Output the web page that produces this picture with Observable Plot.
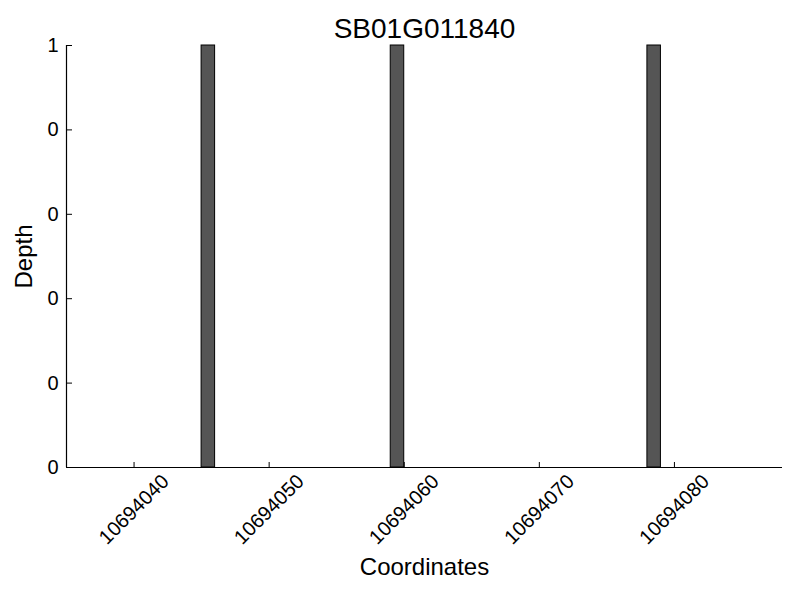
<!DOCTYPE html>
<html>
<head>
<meta charset="utf-8">
<script src="https://cdn.jsdelivr.net/npm/d3@7"></script>
<script src="https://cdn.jsdelivr.net/npm/@observablehq/plot@0.6"></script>
<style>
  html, body { margin: 0; padding: 0; background: #fff; }
  #chart svg { display: block; font-family: "Liberation Sans", Arial, sans-serif; }
</style>
</head>
<body>
<div id="chart"></div>
<script>
const title = "SB01G011840";
const xLabel = "Coordinates";
const yLabel = "Depth";
// bars: start coordinate, end coordinate, depth
const barStart = [10694045, 10694059, 10694078];
const barEnd = [10694046, 10694060, 10694079];
const depth = [1, 1, 1];
const xDomain = [10694035, 10694088];
const xTicks = [10694040, 10694050, 10694060, 10694070, 10694080];
const yTicks = [0, 0.2, 0.4, 0.6, 0.8, 1];
const yTickLabels = ["0", "0", "0", "0", "0", "1"];

const bars = barStart.map((s, i) => ({x1: s, x2: barEnd[i], y: depth[i]}));
const yt = yTicks.map((v, i) => ({v, label: yTickLabels[i]}));
const font = "Liberation Sans, Arial, sans-serif";

const chart = Plot.plot({
  width: 800,
  height: 600,
  marginLeft: 66,
  marginRight: 18,
  marginTop: 45,
  marginBottom: 133,
  style: {fontFamily: font, background: "white", color: "black"},
  x: {domain: xDomain},
  y: {domain: [0, 1]},
  marks: [
    Plot.rectY(bars, {x1: "x1", x2: "x2", y: "y", fill: "#555555", stroke: "black", strokeWidth: 1}),
    Plot.ruleY([0], {stroke: "black", strokeWidth: 1.2}),
    Plot.ruleX([xDomain[0]], {stroke: "black", strokeWidth: 1.2}),
    Plot.axisX({ticks: xTicks, tickSize: -5, tickFormat: () => "", label: null, stroke: "black"}),
    Plot.axisY({ticks: yTicks, tickSize: -6, tickFormat: () => "", label: null, stroke: "black"}),
    Plot.text(xTicks, {x: d => d, text: d => String(d), frameAnchor: "bottom", dy: 42, rotate: -45,
      textAnchor: "middle", lineAnchor: "middle", fontSize: 20, fill: "black"}),
    Plot.text(yt, {y: "v", text: "label", frameAnchor: "left", dx: -8, textAnchor: "end",
      lineAnchor: "middle", fontSize: 20, fill: "black"}),
    Plot.text([title], {frameAnchor: "top", dy: -16, fontSize: 28, textAnchor: "middle", lineAnchor: "middle", fill: "black"}),
    Plot.text([xLabel], {frameAnchor: "bottom", dy: 100, fontSize: 24, textAnchor: "middle", lineAnchor: "middle", fill: "black"}),
    Plot.text([yLabel], {frameAnchor: "left", dx: -42, dy: 0, rotate: -90, fontSize: 24, textAnchor: "middle", lineAnchor: "middle", fill: "black"})
  ]
});
document.getElementById("chart").appendChild(chart);
</script>
</body>
</html>
